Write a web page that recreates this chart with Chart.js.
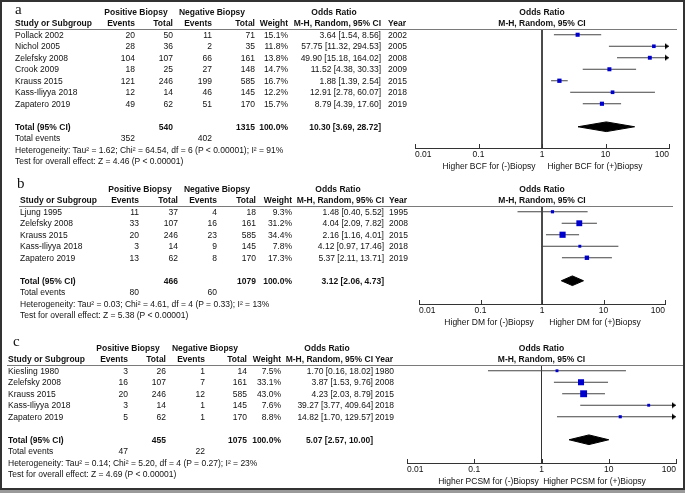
<!DOCTYPE html>
<html>
<head>
<meta charset="utf-8">
<script src="https://cdn.jsdelivr.net/npm/chart.js@4.4.1/dist/chart.umd.min.js"></script>
<style>
  html, body { margin: 0; padding: 0; }
  body { width: 685px; height: 493px; position: relative; overflow: hidden; background: #9a9a9a;
         font-family: "Liberation Sans", Arial, sans-serif; }
  #frame { position: absolute; left: 0; top: 0; width: 685px; height: 490px; box-sizing: border-box;
           border: 2px solid #333; background: #fff; }
  canvas { position: absolute; left: 0; top: 0; }
  .t { position: absolute; font-size: 8.5px; line-height: 1; white-space: nowrap; color: #111;
       transform: translateY(-50%); }
  .b { font-weight: bold; }
  .r { transform: translate(-100%, -50%); }
  .c { transform: translate(-50%, -50%); }
  .letter { font-family: "Liberation Serif", serif; font-size: 15px; }
  .rule { position: absolute; height: 1px; background: #7a7a7a; }
</style>
</head>
<body>
<div id="frame"></div>
<canvas id="chartA" width="685" height="493"></canvas>
<canvas id="chartB" width="685" height="493"></canvas>
<canvas id="chartC" width="685" height="493"></canvas>

<script>
// axis + table headers
const axisTicks = [0.01, 0.1, 1, 10, 100];
const headerTop = ['Positive Biopsy', 'Negative Biopsy', 'Odds Ratio'];
const headerCols = ['Events', 'Total', 'Events', 'Total', 'Weight', 'M-H, Random, 95% CI'];

// a - BCF
const studiesA = ['Pollack 2002', 'Nichol 2005', 'Zelefsky 2008', 'Crook 2009', 'Krauss 2015', 'Kass-Iliyya 2018', 'Zapatero 2019'];
const yearsA = [2002, 2005, 2008, 2009, 2015, 2018, 2019];
const posEventsA = [20, 28, 104, 18, 121, 12, 49];
const posTotalA = [50, 36, 107, 25, 246, 14, 62];
const negEventsA = [11, 2, 66, 27, 199, 46, 51];
const negTotalA = [71, 35, 161, 148, 585, 145, 170];
const weightA = [15.1, 11.8, 13.8, 14.7, 16.7, 12.2, 15.7];
const orA = [3.64, 57.75, 49.90, 11.52, 1.88, 12.91, 8.79];
const loA = [1.54, 11.32, 15.18, 4.38, 1.39, 2.78, 4.39];
const hiA = [8.56, 294.53, 164.02, 30.33, 2.54, 60.07, 17.60];
const totalsA = [540, 1315];
const totalEventsA = [352, 402];
const pooledA = [10.30, 3.69, 28.72];
const hetA = 'Heterogeneity: Tau² = 1.62; Chi² = 64.54, df = 6 (P < 0.00001); I² = 91%';
const testA = 'Test for overall effect: Z = 4.46 (P < 0.00001)';
const favourA = ['Higher BCF for (-)Biopsy', 'Higher BCF for (+)Biopsy'];

// b - DM
const studiesB = ['Ljung 1995', 'Zelefsky 2008', 'Krauss 2015', 'Kass-Iliyya 2018', 'Zapatero 2019'];
const yearsB = [1995, 2008, 2015, 2018, 2019];
const posEventsB = [11, 33, 20, 3, 13];
const posTotalB = [37, 107, 246, 14, 62];
const negEventsB = [4, 16, 23, 9, 8];
const negTotalB = [18, 161, 585, 145, 170];
const weightB = [9.3, 31.2, 34.4, 7.8, 17.3];
const orB = [1.48, 4.04, 2.16, 4.12, 5.37];
const loB = [0.40, 2.09, 1.16, 0.97, 2.11];
const hiB = [5.52, 7.82, 4.01, 17.46, 13.71];
const totalsB = [466, 1079];
const totalEventsB = [80, 60];
const pooledB = [3.12, 2.06, 4.73];
const hetB = 'Heterogeneity: Tau² = 0.03; Chi² = 4.61, df = 4 (P = 0.33); I² = 13%';
const testB = 'Test for overall effect: Z = 5.38 (P < 0.00001)';
const favourB = ['Higher DM for (-)Biopsy', 'Higher DM for (+)Biopsy'];

// c - PCSM
const studiesC = ['Kiesling 1980', 'Zelefsky 2008', 'Krauss 2015', 'Kass-Iliyya 2018', 'Zapatero 2019'];
const yearsC = [1980, 2008, 2015, 2018, 2019];
const posEventsC = [3, 16, 20, 3, 5];
const posTotalC = [26, 107, 246, 14, 62];
const negEventsC = [1, 7, 12, 1, 1];
const negTotalC = [14, 161, 585, 145, 170];
const weightC = [7.5, 33.1, 43.0, 7.6, 8.8];
const orC = [1.70, 3.87, 4.23, 39.27, 14.82];
const loC = [0.16, 1.53, 2.03, 3.77, 1.70];
const hiC = [18.02, 9.76, 8.79, 409.64, 129.57];
const totalsC = [455, 1075];
const totalEventsC = [47, 22];
const pooledC = [5.07, 2.57, 10.00];
const hetC = 'Heterogeneity: Tau² = 0.14; Chi² = 5.20, df = 4 (P = 0.27); I² = 23%';
const testC = 'Test for overall effect: Z = 4.69 (P < 0.00001)';
const favourC = ['Higher PCSM for (-)Biopsy', 'Higher PCSM for (+)Biopsy'];

const W = 685, H = 493;
const PITCH = 11.5;

// where each panel sits on the page
const panels = [
  { id: 'chartA', letter: 'a', studies: studiesA, years: yearsA, pe: posEventsA, pt: posTotalA, ne: negEventsA, nt: negTotalA,
    w: weightA, or: orA, lo: loA, hi: hiA, sums: totalsA, events: totalEventsA, pooled: pooledA, het: hetA, test: testA, favour: favourA,
    box: { top: 29, axisY: 148, x0: 415, x1: 669, letterX: 15, letterRow: -2.2, studyX: 15,
           cols: [135, 173, 212, 255, 288, 381], yearX: 388, heads: [136, 212, 334], rule: [14, 677] } },
  { id: 'chartB', letter: 'b', studies: studiesB, years: yearsB, pe: posEventsB, pt: posTotalB, ne: negEventsB, nt: negTotalB,
    w: weightB, or: orB, lo: loB, hi: hiB, sums: totalsB, events: totalEventsB, pooled: pooledB, het: hetB, test: testB, favour: favourB,
    box: { top: 206, axisY: 304, x0: 419, x1: 665, letterX: 17, letterRow: -2.5, studyX: 20,
           cols: [139, 178, 217, 256, 292, 384], yearX: 389, heads: [140, 217, 338], rule: [19, 673] } },
  { id: 'chartC', letter: 'c', studies: studiesC, years: yearsC, pe: posEventsC, pt: posTotalC, ne: negEventsC, nt: negTotalC,
    w: weightC, or: orC, lo: loC, hi: hiC, sums: totalsC, events: totalEventsC, pooled: pooledC, het: hetC, test: testC, favour: favourC,
    box: { top: 365, axisY: 463, x0: 407, x1: 676, letterX: 13, letterRow: -2.6, studyX: 8,
           cols: [128, 166, 205, 247, 281, 373], yearX: 375, heads: [128, 205, 327], rule: [7, 683] } }
];

// little arrow head, tip sits at the centre of the image
function arrowHead() {
  const c = document.createElement('canvas');
  c.width = 10; c.height = 7;
  const g = c.getContext('2d');
  g.fillStyle = '#000';
  g.beginPath();
  g.moveTo(1, 0.5); g.lineTo(5, 3.5); g.lineTo(1, 6.5);
  g.closePath(); g.fill();
  return c;
}
const arrowImg = arrowHead();

// short upward tick marks on the OR axis
const tickMarks = {
  id: 'tickMarks',
  afterDraw(chart) {
    const sx = chart.scales.x, yb = chart.chartArea.bottom, ctx = chart.ctx;
    ctx.save();
    ctx.strokeStyle = '#333';
    ctx.lineWidth = 1;
    ctx.beginPath();
    sx.ticks.forEach(t => {
      const px = Math.round(sx.getPixelForValue(t.value)) + 0.5;
      ctx.moveTo(px, yb - 4);
      ctx.lineTo(px, yb + 1);
    });
    ctx.stroke();
    ctx.restore();
  }
};

function fmtOR(o, l, h) {
  return o.toFixed(2) + ' [' + l.toFixed(2) + ', ' + h.toFixed(2) + ']';
}

function addText(str, x, y, cls) {
  const el = document.createElement('div');
  el.className = 't ' + (cls || '');
  el.textContent = str;
  el.style.left = x + 'px';
  el.style.top = y + 'px';
  document.body.appendChild(el);
}

function makeChart(p) {
  const b = p.box;
  const n = p.studies.length;
  const axisRow = (b.axisY - b.top) / PITCH - 0.5;
  const totalRow = n + 1;
  const datasets = [];

  // squares
  datasets.push({
    type: 'scatter', order: 0,
    data: p.or.map((v, i) => ({ x: v, y: i })),
    pointStyle: 'rect',
    pointRadius: p.w.map(w => 1.05 * Math.sqrt(w) / Math.SQRT2),
    backgroundColor: '#0000cc', borderWidth: 0
  });
  // arrows for CIs running past 100
  const arrows = [];
  p.hi.forEach((h, i) => { if (h > 100) arrows.push({ x: 100, y: i }); });
  datasets.push({
    type: 'scatter', order: 1, data: arrows,
    pointStyle: arrowImg, pointRadius: 4, clip: false
  });
  // confidence intervals
  p.studies.forEach((s, i) => {
    datasets.push({
      type: 'line', order: 2,
      data: [{ x: p.lo[i], y: i }, { x: Math.min(p.hi[i], 100), y: i }],
      borderColor: '#444', borderWidth: 1, pointRadius: 0, fill: false
    });
  });
  // pooled diamond
  const [po, pl, ph] = p.pooled;
  datasets.push({
    type: 'line', order: 3,
    data: [{ x: pl, y: totalRow }, { x: po, y: totalRow - 0.42 }, { x: ph, y: totalRow },
           { x: po, y: totalRow + 0.42 }, { x: pl, y: totalRow }],
    borderColor: '#000', backgroundColor: '#000', borderWidth: 1, pointRadius: 0, fill: 'shape', tension: 0
  });
  // line of no effect
  datasets.push({
    type: 'line', order: 4,
    data: [{ x: 1, y: -0.5 }, { x: 1, y: axisRow }],
    borderColor: '#333', borderWidth: 1, pointRadius: 0, fill: false
  });

  const chart = new Chart(document.getElementById(p.id), {
    type: 'scatter',
    data: { datasets: datasets },
    options: {
      responsive: false,
      animation: false,
      events: [],
      layout: { padding: { left: b.x0, right: W - b.x1, top: b.top, bottom: H - b.axisY - 20 } },
      plugins: { legend: { display: false }, tooltip: { enabled: false } },
      scales: {
        x: {
          type: 'logarithmic', min: 0.01, max: 100, position: 'bottom',
          afterBuildTicks: s => { s.ticks = axisTicks.map(v => ({ value: v })); },
          afterFit: s => { s.height = 20; },
          grid: { drawOnChartArea: false, drawTicks: false },
          border: { display: true, color: '#333', width: 1 },
          ticks: {
            align: 'inner', padding: 2, color: '#111', autoSkip: false, maxRotation: 0,
            font: { family: 'Liberation Sans', size: 8.5 },
            callback: v => String(v)
          }
        },
        y: { type: 'linear', reverse: true, min: -0.5, max: axisRow, display: false }
      }
    },
    plugins: [tickMarks]
  });
  return chart;
}

function drawTable(chart, p) {
  const b = p.box;
  const n = p.studies.length;
  const ys = v => chart.scales.y.getPixelForValue(v);
  const xs = v => chart.scales.x.getPixelForValue(v);

  addText(p.letter, b.letterX, ys(b.letterRow), 'letter');
  headerTop.forEach((h, k) => addText(h, b.heads[k], ys(-2), 'b c'));
  addText('Odds Ratio', xs(1), ys(-2), 'b c');
  addText('Study or Subgroup', b.studyX, ys(-1), 'b');
  headerCols.forEach((h, k) => addText(h, b.cols[k], ys(-1), 'b r'));
  addText('Year', b.yearX, ys(-1), 'b');
  addText('M-H, Random, 95% CI', xs(1), ys(-1), 'b c');

  const rule = document.createElement('div');
  rule.className = 'rule';
  rule.style.left = b.rule[0] + 'px';
  rule.style.width = (b.rule[1] - b.rule[0]) + 'px';
  rule.style.top = Math.round(ys(-0.5)) + 'px';
  document.body.appendChild(rule);

  p.studies.forEach((s, i) => {
    const y = ys(i);
    addText(s, b.studyX, y);
    addText(String(p.pe[i]), b.cols[0], y, 'r');
    addText(String(p.pt[i]), b.cols[1], y, 'r');
    addText(String(p.ne[i]), b.cols[2], y, 'r');
    addText(String(p.nt[i]), b.cols[3], y, 'r');
    addText(p.w[i].toFixed(1) + '%', b.cols[4], y, 'r');
    addText(fmtOR(p.or[i], p.lo[i], p.hi[i]), b.cols[5], y, 'r');
    addText(String(p.years[i]), b.yearX, y);
  });

  const yt = ys(n + 1);
  addText('Total (95% CI)', b.studyX, yt, 'b');
  addText(String(p.sums[0]), b.cols[1], yt, 'b r');
  addText(String(p.sums[1]), b.cols[3], yt, 'b r');
  addText('100.0%', b.cols[4], yt, 'b r');
  addText(fmtOR(p.pooled[0], p.pooled[1], p.pooled[2]), b.cols[5], yt, 'b r');

  addText('Total events', b.studyX, ys(n + 2));
  addText(String(p.events[0]), b.cols[0], ys(n + 2), 'r');
  addText(String(p.events[1]), b.cols[2], ys(n + 2), 'r');
  addText(p.het, b.studyX, ys(n + 3));
  addText(p.test, b.studyX, ys(n + 4));

  const yf = chart.chartArea.bottom + 18;
  addText(p.favour[0], xs(1) - 53, yf, 'c');
  addText(p.favour[1], xs(1) + 53, yf, 'c');
}

panels.forEach(p => {
  const chart = makeChart(p);
  drawTable(chart, p);
});
</script>
</body>
</html>
